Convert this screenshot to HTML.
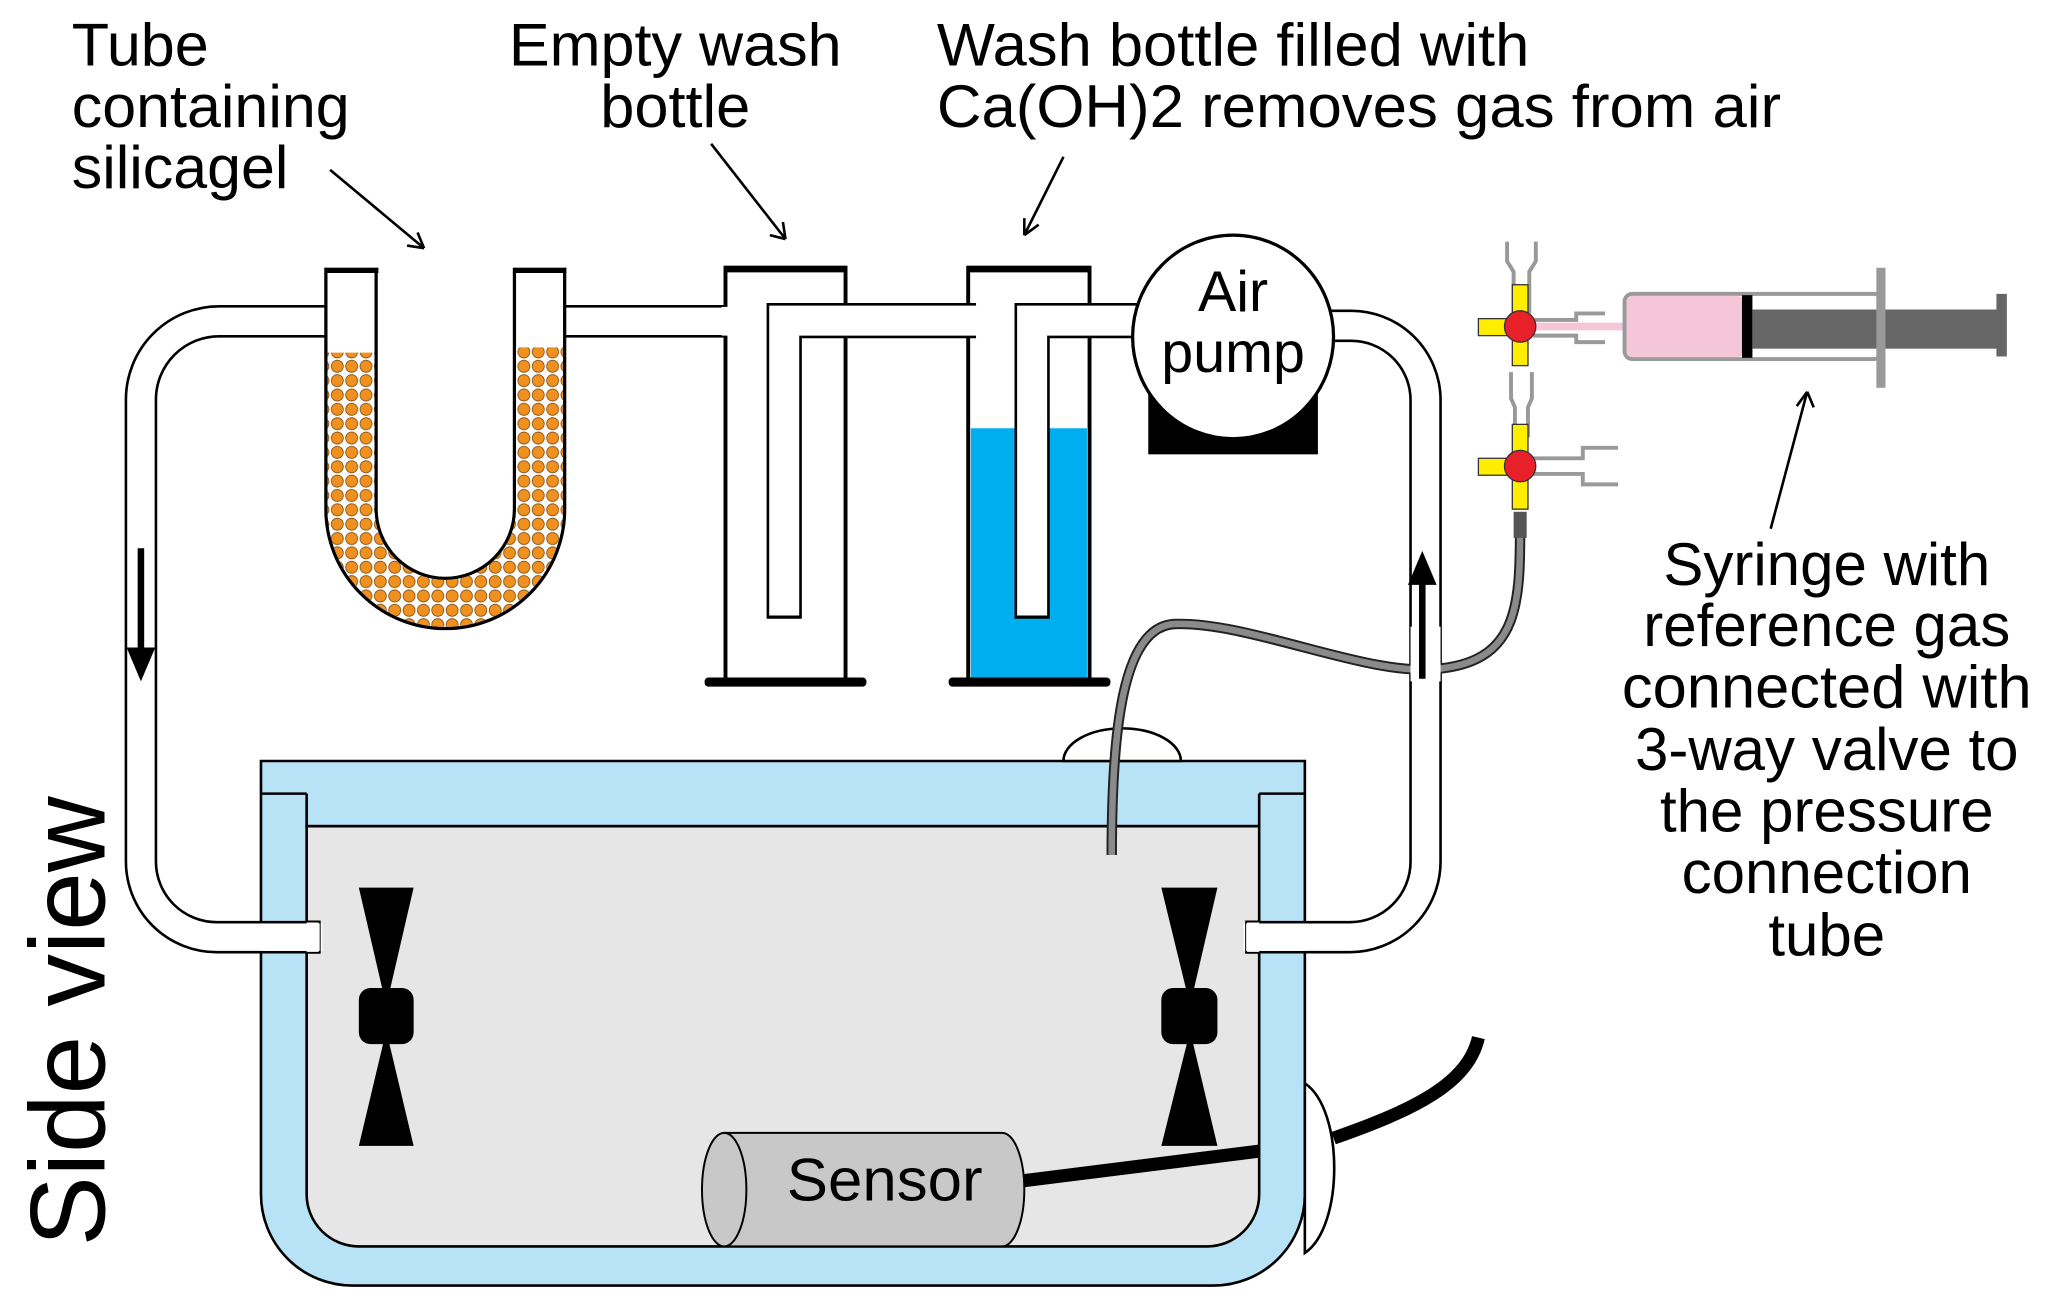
<!DOCTYPE html>
<html><head><meta charset="utf-8"><style>html,body{margin:0;padding:0;background:#fff}svg{display:block}</style></head>
<body>
<svg xmlns="http://www.w3.org/2000/svg" width="2046" height="1308" viewBox="0 0 1568 1002" font-family="Liberation Sans, Arial, sans-serif">
<defs>
<pattern id="sg" width="11" height="11" patternUnits="userSpaceOnUse">
<rect width="11" height="11" fill="#fff"/>
<circle cx="5.5" cy="5.5" r="4.6" fill="#f0901e" stroke="#7a4a10" stroke-width="0.6"/>
</pattern>
</defs>
<!-- labels -->
<g font-size="46" fill="#000">
<text x="55" y="50" textLength="105" lengthAdjust="spacingAndGlyphs">Tube</text>
<text x="55" y="97" textLength="213" lengthAdjust="spacingAndGlyphs">containing</text>
<text x="55" y="144" textLength="166" lengthAdjust="spacingAndGlyphs">silicagel</text>
<text x="390" y="50" textLength="255" lengthAdjust="spacingAndGlyphs">Empty wash</text>
<text x="460" y="97" textLength="115" lengthAdjust="spacingAndGlyphs">bottle</text>
<text x="718" y="50" textLength="454" lengthAdjust="spacingAndGlyphs">Wash bottle filled with</text>
<text x="718" y="97" textLength="647" lengthAdjust="spacingAndGlyphs">Ca(OH)2 removes gas from air</text>
</g>
<g stroke="#000" stroke-width="2" fill="none">
<path d="M253 130 L325 190 M325 190 L312 188 M325 190 L320 178"/>
<path d="M545 110 L602 183 M602 183 L590 180 M602 183 L600 170"/>
<path d="M815 120 L785 180 M785 180 L785 167 M785 180 L796 172"/>
<path d="M1357 405 L1385 300 M1385 300 L1377 311 M1385 300 L1390 312"/>
</g>

<!-- tank -->
<path d="M200 583 H1000 V915 A70 70 0 0 1 930 985 H270 A70 70 0 0 1 200 915 Z" fill="#b8e3f7" stroke="#000" stroke-width="2"/>
<line x1="200" y1="608" x2="235" y2="608" stroke="#000" stroke-width="2"/>
<line x1="965" y1="608" x2="1000" y2="608" stroke="#000" stroke-width="2"/>
<path d="M235 608 V633 H965 V608" fill="none" stroke="#000" stroke-width="2"/>
<path d="M235 633 H965 V915 A40 40 0 0 1 925 955 H275 A40 40 0 0 1 235 915 Z" fill="#e6e6e6" stroke="#000" stroke-width="2"/>
<path d="M815 583 A45 25 0 0 1 905 583 Z" fill="#fff" stroke="#000" stroke-width="2"/>
<path d="M1000 830 C1030 850 1030 940 1000 960 Z" fill="#fff" stroke="#000" stroke-width="2"/>

<!-- loops -->
<g fill="none">
<path d="M255 246 H168 A60 60 0 0 0 108 306 V660 A58 58 0 0 0 166 718 H245" stroke="#000" stroke-width="25"/>
<path d="M255 246 H168 A60 60 0 0 0 108 306 V660 A58 58 0 0 0 166 718 H247" stroke="#fff" stroke-width="21"/>
<path d="M1010 249.5 H1035 A57 57 0 0 1 1092.5 306 V660 A58 58 0 0 1 1034 718 H955" stroke="#000" stroke-width="25"/>
<path d="M1010 249.5 H1035 A57 57 0 0 1 1092.5 306 V660 A58 58 0 0 1 1034 718 H953" stroke="#fff" stroke-width="21"/>
</g>
<path d="M235 706 H245 V730 H235" fill="#fff" stroke="#000" stroke-width="1.5"/>
<path d="M965 706 H955 V730 H965" fill="#fff" stroke="#000" stroke-width="1.5"/>
<rect x="199" y="707.5" width="46" height="21" fill="#fff"/>
<rect x="955" y="707.5" width="46" height="21" fill="#fff"/>

<!-- pipe U to bottle -->
<path d="M430 246 H560" stroke="#000" stroke-width="25"/>
<path d="M428 246 H562" stroke="#fff" stroke-width="21"/>

<!-- U tube -->
<path d="M269 205 V390 A72 72 0 0 0 413.5 390 V205" fill="none" stroke="#000" stroke-width="41"/>
<path d="M269 205 V390 A72 72 0 0 0 413.5 390 V205" fill="none" stroke="#fff" stroke-width="36"/>
<path d="M269 270 V390 A72 72 0 0 0 413.5 390 V266" fill="none" stroke="url(#sg)" stroke-width="36"/>
<path d="M249 207 H290 M394 207 H434" stroke="#000" stroke-width="4"/>
<rect x="252" y="235" width="20" height="22" fill="#fff"/>
<rect x="411" y="235" width="20" height="22" fill="#fff"/>

<!-- bottles -->
<rect x="556" y="205" width="92" height="317" fill="#fff" stroke="#000" stroke-width="3"/>
<rect x="742" y="205" width="93" height="317" fill="#fff" stroke="#000" stroke-width="3"/>
<rect x="744" y="328" width="89" height="192" fill="#00aeef"/>
<line x1="555" y1="206" x2="649" y2="206" stroke="#000" stroke-width="5"/>
<line x1="741" y1="206" x2="836" y2="206" stroke="#000" stroke-width="5"/>
<rect x="540" y="519" width="124" height="7" rx="3" fill="#000"/>
<rect x="727" y="519" width="124" height="7" rx="3" fill="#000"/>
<rect x="553" y="235" width="10" height="22" fill="#fff"/>
<g fill="none">
<path d="M601 474 V245.5 H748 M791 474 V245.5 H880" stroke="#000" stroke-width="27"/>
<path d="M601 471.5 V245.5 H750 M791 471.5 V245.5 H882" stroke="#fff" stroke-width="23"/>
</g>

<!-- pump -->
<rect x="880" y="290" width="130" height="58" fill="#000"/>
<ellipse cx="945" cy="258" rx="77" ry="78" fill="#fff" stroke="#000" stroke-width="2.5"/>
<text x="945" y="238" font-size="44" text-anchor="middle">Air</text>
<text x="945" y="285" font-size="44" text-anchor="middle">pump</text>

<!-- gray pressure tube -->
<path d="M852 655 C852 560 860 480 900 478 C960 476 1050 520 1105 512 C1165 505 1165 460 1165 400" fill="none" stroke="#222" stroke-width="8"/>
<path d="M852 655 C852 560 860 480 900 478 C960 476 1050 520 1105 512 C1165 505 1165 460 1165 400" fill="none" stroke="#8a8a8a" stroke-width="5"/>
<rect x="1081" y="480" width="23" height="42" fill="#fff"/>

<!-- arrows in loops -->
<path d="M108 420 V500" stroke="#000" stroke-width="5"/>
<path d="M97 496 L108 522 L119 496 Z" fill="#000"/>
<path d="M1090 520 V445" stroke="#000" stroke-width="5"/>
<path d="M1079 448 L1090 422 L1101 448 Z" fill="#000"/>

<!-- fans -->
<g fill="#000">
<path d="M275 680 H317 L298 762 H294 Z"/><rect x="275" y="757" width="42" height="43" rx="9"/><path d="M294 798 H298 L317 878 H275 Z"/>
<path d="M890 680 H933 L914 762 H910 Z"/><rect x="890" y="757" width="43" height="43" rx="9"/><path d="M910 798 H914 L933 878 H890 Z"/>
</g>

<!-- sensor -->
<path d="M782 905 L965 882" stroke="#000" stroke-width="10"/>
<path d="M1022 872 C1085 850 1125 830 1133 795" fill="none" stroke="#000" stroke-width="10"/>
<path d="M555 868 H768 A17 43.5 0 0 1 768 955 H555 Z" fill="#c8c8c8" stroke="#000" stroke-width="1.5"/>
<ellipse cx="555" cy="911.5" rx="17" ry="43.5" fill="#c8c8c8" stroke="#000" stroke-width="1.5"/>
<text x="678" y="920" font-size="46" text-anchor="middle" textLength="150" lengthAdjust="spacingAndGlyphs">Sensor</text>

<text transform="translate(80 955) rotate(-90)" font-size="82" textLength="345" lengthAdjust="spacingAndGlyphs">Side view</text>

<!-- valves & syringe -->
<g fill="none" stroke="#999" stroke-width="3">
<path d="M1155 185 V200 L1160 208 V240 M1177 185 V200 L1172 208 V240"/>
<path d="M1158 285 V305 L1161 312 V335 M1174 285 V305 L1171 312 V335"/>
<path d="M1175 351 H1213 V343 H1240 M1175 363 H1213 V371 H1240"/>
<path d="M1175 245 H1208 V240 H1230 M1175 257 H1208 V262 H1230"/>
</g>
<path d="M1175 247 H1245 V253 H1175 Z" fill="#f5c6d8"/>
<rect x="1245" y="225" width="197" height="50" rx="6" fill="#fff" stroke="#999" stroke-width="3"/>
<rect x="1246.5" y="226.5" width="90" height="47" rx="5" fill="#f5c6d8"/>
<rect x="1335" y="226" width="8" height="48" fill="#000"/>
<rect x="1343" y="237" width="190" height="30" fill="#666"/>
<rect x="1438" y="205" width="7" height="92" fill="#999"/>
<rect x="1530" y="225" width="8" height="48" fill="#666"/>
<g stroke="#333" stroke-width="1">
<rect x="1159" y="218" width="12" height="62" fill="#ffee00"/>
<rect x="1133" y="244" width="30" height="13" fill="#ffee00"/>
<circle cx="1165" cy="250" r="12" fill="#e8202a"/>
<rect x="1159" y="325" width="12" height="65" fill="#ffee00"/>
<rect x="1133" y="351" width="30" height="13" fill="#ffee00"/>
<circle cx="1165" cy="357" r="12" fill="#e8202a"/>
</g>
<rect x="1160" y="392" width="10" height="20" fill="#555"/>

<g font-size="46" text-anchor="middle">
<text x="1400" y="448">Syringe with</text>
<text x="1400" y="495">reference gas</text>
<text x="1400" y="542" textLength="314" lengthAdjust="spacingAndGlyphs">connected with</text>
<text x="1400" y="590">3-way valve to</text>
<text x="1400" y="637">the pressure</text>
<text x="1400" y="684">connection</text>
<text x="1400" y="732">tube</text>
</g>
</svg>
</body></html>
